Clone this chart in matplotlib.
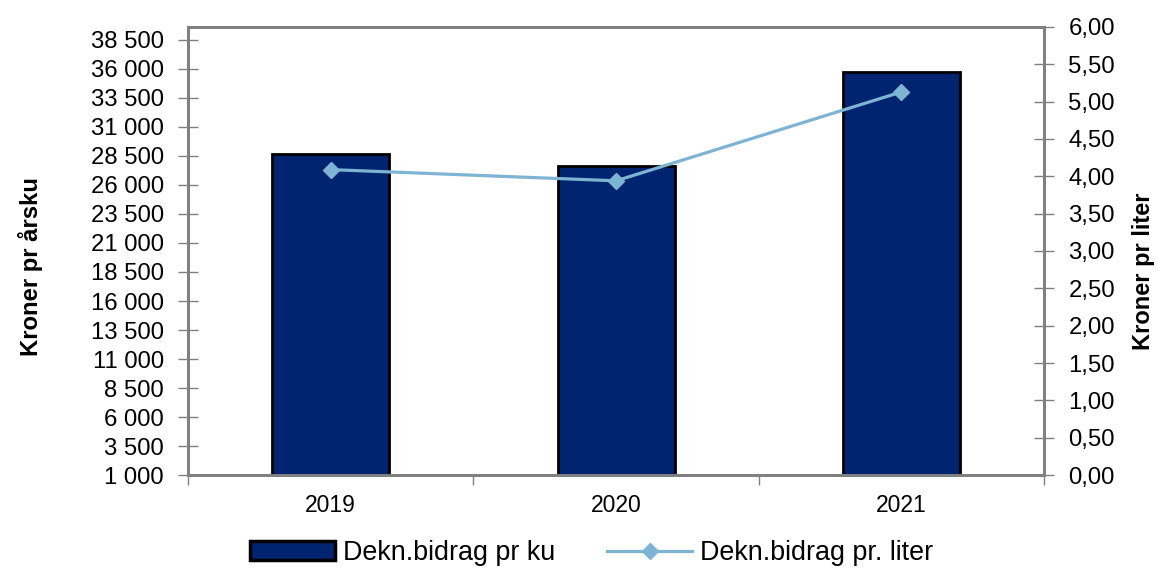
import matplotlib
matplotlib.use("Agg")
import matplotlib.pyplot as plt
from matplotlib.ticker import FuncFormatter, FixedLocator
from matplotlib.patches import Patch
from matplotlib.lines import Line2D

years = ["2019", "2020", "2021"]
per_cow = [28630, 27640, 35700]
per_liter = [4.09, 3.94, 5.13]
left_ticks = [1000, 3500, 6000, 8500, 11000, 13500, 16000, 18500, 21000,
              23500, 26000, 28500, 31000, 33500, 36000, 38500]
right_ticks = [0, 0.5, 1, 1.5, 2, 2.5, 3, 3.5, 4, 4.5, 5, 5.5, 6]

plt.rcParams['font.family'] = ['Liberation Sans', 'DejaVu Sans']

BAR = '#002470'
LINE = '#7DB3D3'
SP = '#808080'

fig = plt.figure(figsize=(11.58, 5.68), dpi=100)
ax = fig.add_axes([0.1624, 0.1637, 0.7392, 0.7888])
x = list(range(len(years)))
ax.bar(x, per_cow, width=0.41, bottom=0, color=BAR, edgecolor='black', linewidth=2, zorder=2)
ax.set_xlim(-0.5, 2.5)
ax.set_ylim(1000, 39620)
ax.yaxis.set_major_locator(FixedLocator(left_ticks))
ax.yaxis.set_major_formatter(FuncFormatter(lambda v, p: f"{int(round(v)):,}".replace(",", " ")))
ax.set_xticks(x)
ax.set_xticklabels(years)
ax.set_xticks([-0.5, 0.5, 1.5, 2.5], minor=True)
ax.tick_params(axis='x', which='major', length=0, labelsize=16.5, pad=14)
ax.tick_params(axis='x', which='minor', length=7, color=SP, width=1, direction='out')
ax.tick_params(axis='y', length=15, direction='inout', color=SP, width=1, labelsize=17.2, pad=10)
for s in ax.spines.values():
    s.set_color(SP)
    s.set_linewidth(2)
ax.set_ylabel("Kroner pr årsku", fontsize=17.2, fontweight='bold')
ax.yaxis.set_label_coords(-0.169, 0.466)

ax2 = ax.twinx()
ax2.plot(x, per_liter, color=LINE, linewidth=2.3, marker='D', markersize=8.5, zorder=3)
ax2.set_ylim(0, 6)
ax2.yaxis.set_major_locator(FixedLocator(right_ticks))
ax2.yaxis.set_major_formatter(FuncFormatter(lambda v, p: f"{v:.2f}".replace(".", ",")))
ax2.tick_params(axis='y', length=15, direction='inout', color=SP, width=1, labelsize=17.2, pad=10)
for s in ax2.spines.values():
    s.set_color(SP)
    s.set_linewidth(2)
ax2.set_ylabel("Kroner pr liter", fontsize=17, fontweight='bold')
ax2.yaxis.set_label_coords(1.1025, 0.455)

handles = [Patch(facecolor=BAR, edgecolor='black', linewidth=2.5),
           Line2D([0], [0], color=LINE, linewidth=2.3, marker='D', markersize=8)]
fig.legend(handles, ["Dekn.bidrag pr ku", "Dekn.bidrag pr. liter"], loc='center',
           bbox_to_anchor=(0.5108, 1 - 553 / 568), ncol=2, frameon=False, fontsize=19.4,
           handlelength=3.16, handleheight=0.67, columnspacing=1.93, handletextpad=0.3)

fig.savefig("out.png", dpi=100)
